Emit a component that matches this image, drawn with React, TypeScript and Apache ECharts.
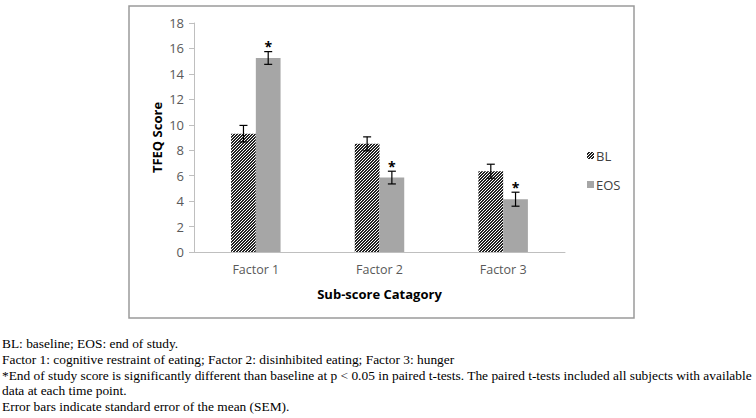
import React, { useEffect, useRef } from "react";
import * as echarts from "echarts";

const categories = ["Factor 1", "Factor 2", "Factor 3"];
const seriesNames = ["BL", "EOS"];
const blValues = [9.3, 8.5, 6.35];
const eosValues = [15.25, 5.85, 4.15];
const blErrors = [0.65, 0.55, 0.55];
const eosErrors = [0.5, 0.5, 0.55];
const eosSignificant = [true, true, true];
const yTicks = [0, 2, 4, 6, 8, 10, 12, 14, 16, 18];
const captionLines = [
  "BL: baseline; EOS: end of study.",
  "Factor 1: cognitive restraint of eating; Factor 2: disinhibited eating; Factor 3: hunger",
  "*End of study score is significantly different than baseline at p < 0.05 in paired t-tests. The paired t-tests included all subjects with available",
  "data at each time point.",
  "Error bars indicate standard error of the mean (SEM).",
];

const FONT = "'Open Sans', 'Noto Sans', sans-serif";

function makeHatch(): HTMLCanvasElement {
  const c = document.createElement("canvas");
  c.width = 3;
  c.height = 3;
  const ctx = c.getContext("2d")!;
  ctx.fillStyle = "#ffffff";
  ctx.fillRect(0, 0, 3, 3);
  ctx.fillStyle = "#222222";
  for (let x = 0; x < 3; x++) {
    for (let y = 0; y < 3; y++) {
      if ((x + y) % 3 !== 0) ctx.fillRect(x, y, 1, 1);
    }
  }
  return c;
}

export default function App() {
  const ref = useRef<HTMLDivElement>(null);
  useEffect(() => {
    if (!ref.current) return;
    const chart = echarts.init(ref.current, null, { renderer: "svg" });
    const hatch = makeHatch();

    const errData: any[] = [];
    categories.forEach((_, i) => {
      errData.push([i, blValues[i], blErrors[i], -1, 0]);
      errData.push([i, eosValues[i], eosErrors[i], 1, eosSignificant[i] ? 1 : 0]);
    });

    const option: any = {
      animation: false,
      backgroundColor: "#fff",
      grid: { left: 194, right: 191, top: 23, bottom: 166, containLabel: false },
      legend: {
        orient: "vertical",
        left: 582,
        top: 144,
        itemWidth: 7,
        itemHeight: 7,
        itemGap: 16,
        icon: "rect",
        data: seriesNames,
        textStyle: { fontFamily: FONT, fontSize: 13, color: "#404040", padding: [0, 0, 0, -3] },
      },
      xAxis: {
        type: "category",
        data: categories,
        name: "Sub-score Catagory",
        nameLocation: "middle",
        nameGap: 35,
        nameTextStyle: { fontFamily: FONT, fontSize: 13, fontWeight: "bold", color: "#000" },
        axisLine: { lineStyle: { color: "#bfbfbf", width: 1 } },
        axisTick: { show: false },
        axisLabel: { margin: 11, fontFamily: FONT, fontSize: 12.5, color: "#595959" },
      },
      yAxis: {
        type: "value",
        min: 0,
        max: 18,
        interval: 2,
        name: "TFEQ Score",
        nameLocation: "middle",
        nameGap: 31,
        nameTextStyle: { fontFamily: FONT, fontSize: 13, fontWeight: "bold", color: "#000" },
        axisLine: { show: true, lineStyle: { color: "#bfbfbf", width: 1 } },
        axisTick: { show: true, length: 5, lineStyle: { color: "#bfbfbf" } },
        splitLine: { show: false },
        axisLabel: {
          margin: 10,
          fontFamily: FONT,
          fontSize: 13,
          color: "#595959",
          formatter: (v: number) => (yTicks.includes(v) ? String(v) : ""),
        },
      },
      series: [
        {
          name: seriesNames[0],
          type: "bar",
          data: blValues,
          barGap: "0%",
          barCategoryGap: "60%",
          itemStyle: {
            color: { image: hatch, repeat: "repeat" },
          },
        },
        {
          name: seriesNames[1],
          type: "bar",
          data: eosValues,
          barGap: "0%",
          barCategoryGap: "60%",
          itemStyle: { color: "#a6a6a6" },
        },
        {
          type: "custom",
          data: errData,
          encode: { x: 0, y: 1 },
          silent: true,
          z: 10,
          renderItem: (params: any, api: any) => {
            const ci = api.value(0);
            const v = api.value(1);
            const e = api.value(2);
            const sign = api.value(3);
            const star = api.value(4);
            const band = api.size([1, 0])[0];
            const cx = api.coord([ci, v])[0] + sign * band * 0.1;
            const yTop = api.coord([ci, v + e])[1];
            const yBot = api.coord([ci, v - e])[1];
            const st = { stroke: "#000", lineWidth: 1.2 };
            const children: any[] = [
              { type: "line", shape: { x1: cx, y1: yTop, x2: cx, y2: yBot }, style: st },
              { type: "line", shape: { x1: cx - 4, y1: yTop, x2: cx + 4, y2: yTop }, style: st },
              { type: "line", shape: { x1: cx - 4, y1: yBot, x2: cx + 4, y2: yBot }, style: st },
            ];
            if (star) {
              children.push({
                type: "text",
                style: {
                  text: "*",
                  x: cx,
                  y: yTop - 5,
                  align: "center",
                  verticalAlign: "middle",
                  fontFamily: FONT,
                  fontSize: 14,
                  fontWeight: "bold",
                  fill: "#000",
                },
              });
            }
            return { type: "group", children };
          },
        },
      ],
      graphic: [
        {
          type: "rect",
          shape: { x: 129, y: 6, width: 505, height: 312 },
          style: { fill: "none", stroke: "#9a9a9a", lineWidth: 1.5 },
          silent: true,
        },
        ...captionLines.map((t, i) => ({
          type: "text",
          left: 2,
          top: 337 + i * 15.8,
          style: {
            text: t,
            fontFamily: "'Liberation Serif', 'Times New Roman', serif",
            fontSize: 13.4,
            fill: "#000",
          },
        })),
      ],
    };
    chart.setOption(option);
    return () => chart.dispose();
  }, []);

  return (
    <div
      ref={ref}
      style={{ position: "fixed", left: 0, top: 0, width: 756, height: 418 }}
    />
  );
}
